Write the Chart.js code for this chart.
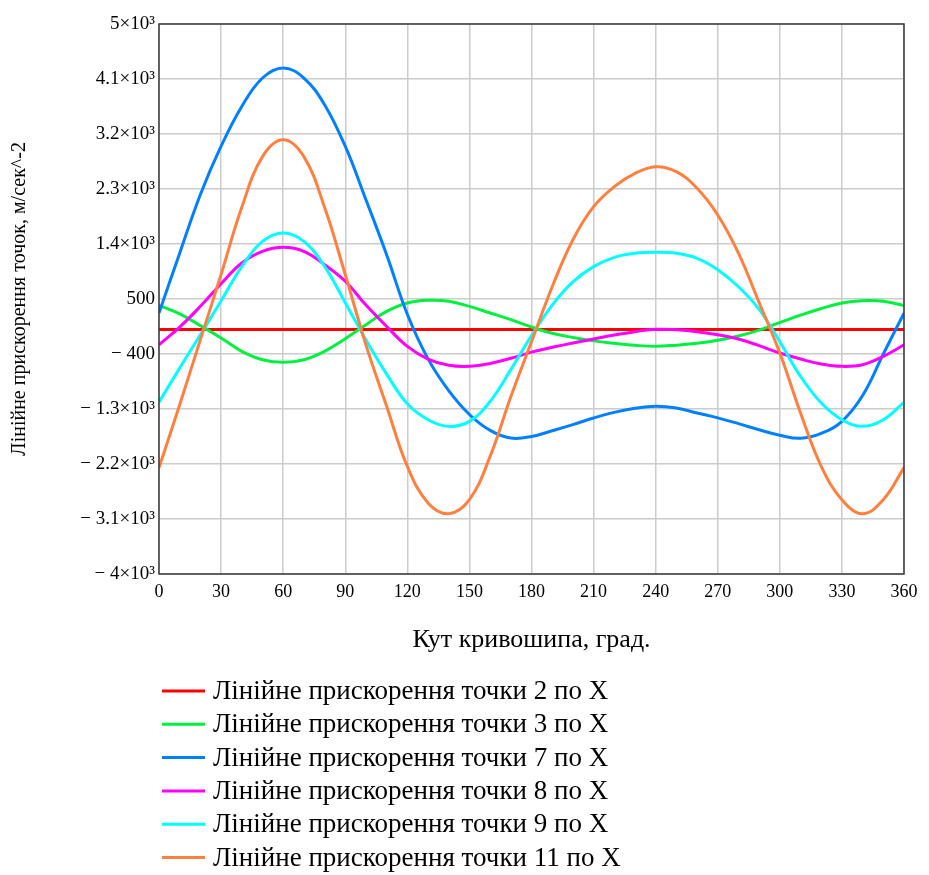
<!DOCTYPE html>
<html>
<head>
<meta charset="utf-8">
<script src="https://cdn.jsdelivr.net/npm/chart.js@4"></script>
<style>
  html, body { margin: 0; padding: 0; background: #ffffff; }
  #wrap { width: 929px; height: 875px; position: relative; }
</style>
</head>
<body>
<div id="wrap"><canvas id="chart" width="929" height="875"></canvas></div>
<script>
// Crank angle, degrees (10° step)
const angles = [0, 10, 20, 30, 40, 50, 60, 70, 80, 90, 100, 110, 120,
                130, 140, 150, 160, 170, 180, 190, 200, 210, 220, 230, 240,
                250, 260, 270, 280, 290, 300, 310, 320, 330, 340, 350, 360];

// Linear accelerations along X, m/s^2
const point2  = [0, 0, 0, 0, 0, 0, 0, 0, 0, 0, 0, 0, 0,
                 0, 0, 0, 0, 0, 0, 0, 0, 0, 0, 0, 0,
                 0, 0, 0, 0, 0, 0, 0, 0, 0, 0, 0, 0];
const point3  = [395, 255, 65, -138, -356, -493, -536, -493, -356, -150, 80, 298, 435,
                 478, 462, 380, 271, 162, 42, -60, -130, -185, -225, -258, -275,
                 -255, -225, -175, -105, -10, 115, 235, 345, 435, 473, 462, 395];
const point7  = [270, 1250, 2210, 3000, 3650, 4116, 4280, 4116, 3680, 3000, 2125, 1225, 250,
                 -480, -1000, -1390, -1650, -1775, -1750, -1655, -1556, -1447, -1355, -1289, -1256,
                 -1284, -1365, -1445, -1540, -1640, -1730, -1780, -1700, -1502, -1080, -400, 270];
const point8  = [-250, 40, 380, 750, 1089, 1280, 1345, 1280, 1062, 790, 400, 50, -275,
                 -482, -585, -602, -555, -470, -370, -290, -220, -155, -90, -35, 5,
                 -5, -35, -84, -155, -264, -384, -482, -564, -602, -575, -438, -250];
const point9  = [-1190, -629, -84, 470, 1030, 1443, 1580, 1443, 1035, 440, -170, -730, -1215,
                 -1475, -1584, -1502, -1175, -656, -100, 400, 780, 1030, 1182, 1247, 1264,
                 1247, 1165, 980, 700, 330, -200, -765, -1202, -1475, -1584, -1475, -1190];
const point11 = [-2260, -1229, -165, 900, 2000, 2830, 3107, 2830, 2000, 900, -250, -1256, -2238,
                 -2838, -3013, -2784, -2075, -1100, -200, 700, 1470, 2011, 2338, 2556, 2665,
                 2584, 2311, 1875, 1250, 440, -384, -1365, -2238, -2784, -3013, -2784, -2260];

const seriesLabels = [
  'Лінійне прискорення точки 2 по X',
  'Лінійне прискорення точки 3 по X',
  'Лінійне прискорення точки 7 по X',
  'Лінійне прискорення точки 8 по X',
  'Лінійне прискорення точки 9 по X',
  'Лінійне прискорення точки 11 по X'
];
const seriesValues = [point2, point3, point7, point8, point9, point11];
const seriesColors = ['#ff0000', '#00f040', '#0080ff', '#ff00ff', '#00ffff', '#ff8040'];

const xTicks = [0, 30, 60, 90, 120, 150, 180, 210, 240, 270, 300, 330, 360];
const yTicks = [-4000, -3100, -2200, -1300, -400, 500, 1400, 2300, 3200, 4100, 5000];

const xTitle = 'Кут кривошипа, град.';
const yTitle = 'Лінійне прискорення точок, м/сек^-2';

const SERIF = '"Liberation Serif", "Times New Roman", serif';

function formatY(v) {
  const sign = v < 0 ? '\u2212 ' : '';
  const a = Math.abs(v);
  if (a >= 1000) {
    return sign + String(a / 1000) + '\u00d710\u00b3';
  }
  return sign + String(a);
}

const datasets = seriesValues.map((vals, i) => ({
  label: seriesLabels[i],
  data: angles.map((a, j) => ({ x: a, y: vals[j] })),
  borderColor: seriesColors[i],
  backgroundColor: seriesColors[i],
  borderWidth: 3,
  pointRadius: 0,
  tension: 0.4,
  fill: false,
  order: -i
}));

const decorations = {
  id: 'decorations',
  afterDraw(chart) {
    const ctx = chart.ctx;
    const area = chart.chartArea;
    ctx.save();

    // plot frame
    ctx.strokeStyle = '#3a3a3a';
    ctx.lineWidth = 1.5;
    ctx.strokeRect(area.left, area.top, area.right - area.left, area.bottom - area.top);

    // axis titles
    ctx.fillStyle = '#000000';
    ctx.textAlign = 'center';
    ctx.textBaseline = 'middle';
    ctx.font = '26px ' + SERIF;
    ctx.fillText(xTitle, (area.left + area.right) / 2, 640);

    ctx.save();
    ctx.translate(20, (area.top + area.bottom) / 2);
    ctx.rotate(-Math.PI / 2);
    ctx.font = '20px ' + SERIF;
    ctx.fillText(yTitle, 0, 0);
    ctx.restore();

    // legend
    ctx.textAlign = 'left';
    ctx.font = '27px ' + SERIF;
    chart.data.datasets.forEach((ds, i) => {
      const y = 691 + i * 33.3;
      ctx.strokeStyle = ds.borderColor;
      ctx.lineWidth = 3;
      ctx.beginPath();
      ctx.moveTo(162, y);
      ctx.lineTo(205, y);
      ctx.stroke();
      ctx.fillStyle = '#000000';
      ctx.fillText(ds.label, 213, y + 1);
    });
    ctx.restore();
  }
};

new Chart(document.getElementById('chart'), {
  type: 'line',
  data: { datasets },
  options: {
    responsive: false,
    animation: false,
    devicePixelRatio: 1,
    layout: { padding: { left: 0, top: 24, right: 25, bottom: 261 } },
    plugins: { legend: { display: false }, tooltip: { enabled: false } },
    scales: {
      x: {
        type: 'linear',
        min: 0,
        max: 360,
        afterBuildTicks: (scale) => { scale.ticks = xTicks.map(v => ({ value: v })); },
        afterFit: (scale) => { scale.height = 40; },
        grid: { color: '#cccccc', lineWidth: 1.5, drawTicks: false },
        border: { display: false },
        ticks: {
          padding: 7,
          color: '#000000',
          maxRotation: 0,
          autoSkip: false,
          font: { family: SERIF, size: 18 },
          callback: (v) => String(v)
        }
      },
      y: {
        type: 'linear',
        min: -4000,
        max: 5000,
        afterBuildTicks: (scale) => { scale.ticks = yTicks.map(v => ({ value: v })); },
        afterFit: (scale) => { scale.width = 159; },
        grid: { color: '#cccccc', lineWidth: 1.5, drawTicks: false },
        border: { display: false },
        ticks: {
          padding: 4,
          color: '#000000',
          autoSkip: false,
          font: { family: SERIF, size: 19 },
          callback: (v) => formatY(v)
        }
      }
    }
  },
  plugins: [decorations]
});
</script>
</body>
</html>
